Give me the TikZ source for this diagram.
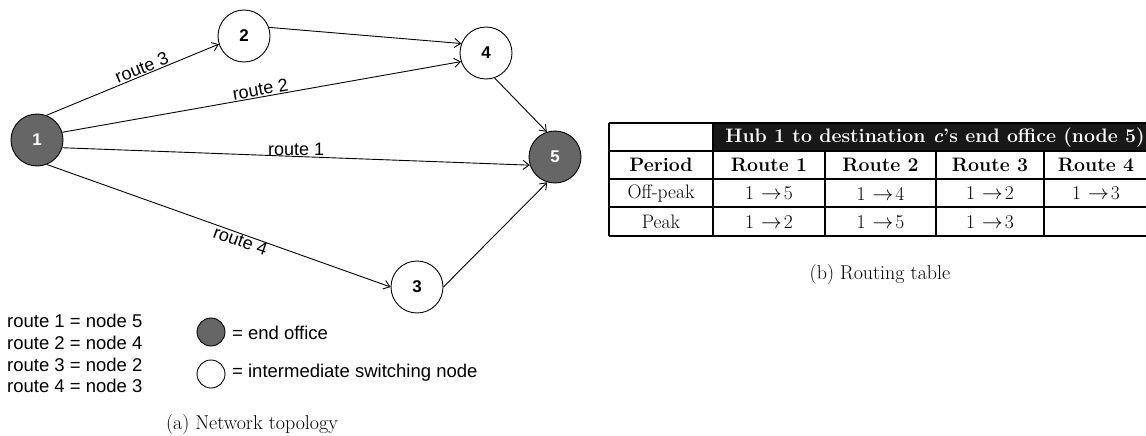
\documentclass[tikz,border=0pt]{standalone}
\usepackage{fontspec}
\newfontfamily\arialish{Liberation Sans}
\usetikzlibrary{arrows.meta}
\definecolor{nodegray}{RGB}{102,102,102}
\definecolor{headblack}{RGB}{24,24,24}
\newcommand{\hop}[2]{#1\hspace{7pt}$\rightarrow$\hspace{2pt}#2}

\begin{document}
\begin{tikzpicture}[x=1pt,y=-1pt,
  netnode/.style={circle, draw=black, line width=0.9pt, minimum size=52pt, inner sep=0pt,
    font=\arialish\bfseries\fontsize{17}{17}\selectfont},
  endoffice/.style={netnode, fill=nodegray, text=white},
  switchnode/.style={netnode, fill=white},
  link/.style={draw=black, line width=0.9pt, -{Straight Barb[length=6pt,width=9pt]}},
  rlabel/.style={font=\arialish\fontsize{18}{18}\selectfont, inner sep=1pt},
  legtext/.style={font=\arialish\fontsize{18.5}{21}\selectfont, anchor=west, inner sep=0pt},
  legcircle/.style={circle, draw=black, line width=0.9pt, minimum size=28pt, inner sep=0pt},
  caption/.style={font=\fontsize{20}{22}\selectfont\addfontfeature{LetterSpace=6}, inner sep=0pt},
  cellbold/.style={font=\bfseries\fontsize{19.5}{21}\selectfont, inner sep=0pt},
  cellplain/.style={font=\fontsize{19.5}{21}\selectfont\addfontfeature{LetterSpace=5}, inner sep=0pt},
  gridline/.style={draw=black, line width=1.2pt}
]
\useasboundingbox (0,0) rectangle (1146,436);

% ---------------- network topology ----------------
\node[endoffice]  (n1) at (37,140)  {1};
\node[switchnode] (n2) at (244,36)  {2};
\node[switchnode] (n4) at (486,53)  {4};
\node[endoffice]  (n5) at (555,157) {5};
\node[switchnode] (n3) at (417,287) {3};

\draw[link] (n1.69)  -- node[rlabel, sloped, above, pos=0.57] {route 3} (n2.198);
\draw[link] (n1.17)  -- node[rlabel, sloped, above, pos=0.5]  {route 2} (n4.199);
\draw[link] (n1.-17) -- node[rlabel, anchor=base, pos=0.5, inner sep=0pt, yshift=1pt] {route 1} (n5.198);
\draw[link] (n1.-68) -- node[rlabel, sloped, below, pos=0.57, inner sep=0pt] {route 4} (n3.180);
\draw[link] (n2.19)  -- (n4.159);
\draw[link] (n4.-71) -- (n5.108);
\draw[link] (n3.0)   -- (n5.253);

% legend
\node[legtext] (l1) at (7,321) {route 1 = node 5};
\node[legtext] (l2) at (7,343) {route 2 = node 4};
\node[legtext] (l3) at (7,365) {route 3 = node 2};
\node[legtext] (l4) at (7,386) {route 4 = node 3};

\node[legcircle, fill=nodegray] (kend) at (211,332) {};
\node[legtext] (kendt) at (232,333) {= end office};
\node[legcircle, fill=white] (ksw) at (211,374) {};
\node[legtext] (kswt) at (232,373) {= intermediate switching node};

\node[caption] (capa) at (252,425) {(a) Network topology};

% ---------------- routing table ----------------
\fill[headblack] (713,123) rectangle (1146,151);
\foreach \yy in {123,151,179,207,236} \draw[gridline] (609,\yy) -- (1146,\yy);
\draw[gridline] (609,123) -- (609,236);
\draw[gridline] (713,123) -- (713,236);
\foreach \xx in {825,936,1044} \draw[gridline] (\xx,151) -- (\xx,236);

\node[cellbold, text=white] (hub) at (935,137.5)
  {Hub 1 to destination \textit{c}’s end office (node 5)};

\node[cellbold] (hper) at (661,165)  {Period};
\node[cellbold] (hr1)  at (769,165)  {Route 1};
\node[cellbold] (hr2)  at (880.5,165) {Route 2};
\node[cellbold] (hr3)  at (990,165)  {Route 3};
\node[cellbold] (hr4)  at (1096,165) {Route 4};

\node[cellplain] (offp) at (661,193.5)   {Off-peak};
\node[cellplain] (o1)   at (769,193.5)   {\hop{1}{5}};
\node[cellplain] (o2)   at (880.5,193.5) {\hop{1}{4}};
\node[cellplain] (o3)   at (990,193.5)   {\hop{1}{2}};
\node[cellplain] (o4)   at (1096,193.5)  {\hop{1}{3}};

\node[cellplain] (peak) at (661,222)   {Peak};
\node[cellplain] (p1)   at (769,222)   {\hop{1}{2}};
\node[cellplain] (p2)   at (880.5,222) {\hop{1}{5}};
\node[cellplain] (p3)   at (990,222)   {\hop{1}{3}};

\node[caption, font=\fontsize{20}{22}\selectfont\addfontfeature{LetterSpace=5}] (capb) at (880,275) {(b) Routing table};
\end{tikzpicture}
\end{document}
